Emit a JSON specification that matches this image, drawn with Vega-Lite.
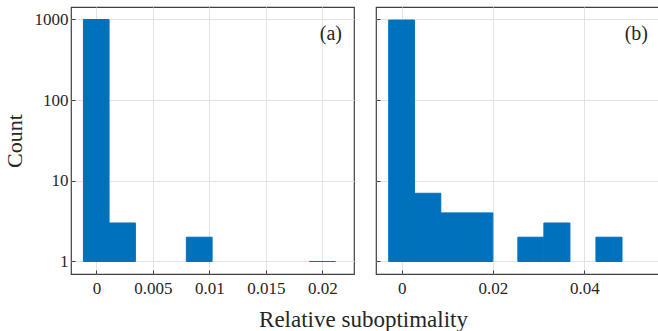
{
  "$schema": "https://vega.github.io/schema/vega-lite/v6.json",
  "padding": {"left": 2, "top": 6, "right": 0, "bottom": 0},
  "autosize": {"type": "pad"},
  "background": "white",
  "data": {"values": [
    {"panel": "a", "lo": -0.00115, "hi": 0.00112, "count": 994},
    {"panel": "a", "lo": 0.00112, "hi": 0.00345, "count": 3},
    {"panel": "a", "lo": 0.00796, "hi": 0.01024, "count": 2},
    {"panel": "a", "lo": 0.01885, "hi": 0.02115, "count": 1},
    {"panel": "b", "lo": -0.00285, "hi": 0.00279, "count": 978},
    {"panel": "b", "lo": 0.00279, "hi": 0.00856, "count": 7},
    {"panel": "b", "lo": 0.00856, "hi": 0.01426, "count": 4},
    {"panel": "b", "lo": 0.01426, "hi": 0.01997, "count": 4},
    {"panel": "b", "lo": 0.02545, "hi": 0.03115, "count": 2},
    {"panel": "b", "lo": 0.03115, "hi": 0.03686, "count": 3},
    {"panel": "b", "lo": 0.04256, "hi": 0.04827, "count": 2}
  ]},
  "spacing": 19,
  "config": {
    "font": "Liberation Serif",
    "view": {"stroke": "#404040", "strokeWidth": 1.2},
    "axis": {
      "gridColor": "#e3e3e3", "gridWidth": 1, "domain": false,
      "tickColor": "#404040", "tickSize": -4,
      "labelFont": "Liberation Serif", "labelFontSize": 17, "labelColor": "#262626",
      "titleFont": "Liberation Serif", "titleFontSize": 22, "titleFontWeight": "normal", "titleColor": "#262626"
    }
  },
  "title": {"text": "Relative suboptimality", "orient": "bottom", "anchor": "middle", "font": "Liberation Serif", "fontSize": 23, "fontWeight": "normal", "color": "#262626", "offset": 12, "dx": 32},
  "hconcat": [
    {
      "width": 283, "height": 267,
      "transform": [{"filter": "datum.panel == 'a'"}],
      "title": {"text": "(a)", "anchor": "end", "offset": -37, "dx": -12, "font": "Liberation Serif", "fontSize": 20, "fontWeight": "normal", "color": "#262626"},
      "mark": {"type": "bar", "color": "#0072bd", "stroke": "#0072bd", "strokeWidth": 1},
      "encoding": {
        "x": {"field": "lo", "type": "quantitative", "scale": {"domain": [-0.00225, 0.0228], "nice": false, "zero": false}, "axis": {"values": [0, 0.005, 0.01, 0.015, 0.02], "format": "~g", "title": null, "labelPadding": 10}},
        "x2": {"field": "hi"},
        "y": {"field": "count", "type": "quantitative", "scale": {"type": "log", "domain": [0.7, 1420], "nice": false}, "axis": {"values": [1, 10, 100, 1000], "format": "d", "title": "Count", "labelPadding": 7, "titlePadding": 8}},
        "y2": {"datum": 1}
      }
    },
    {
      "width": 284, "height": 267,
      "transform": [{"filter": "datum.panel == 'b'"}],
      "title": {"text": "(b)", "anchor": "end", "offset": -37, "dx": -12, "font": "Liberation Serif", "fontSize": 20, "fontWeight": "normal", "color": "#262626"},
      "mark": {"type": "bar", "color": "#0072bd", "stroke": "#0072bd", "strokeWidth": 1},
      "encoding": {
        "x": {"field": "lo", "type": "quantitative", "scale": {"domain": [-0.00564, 0.0566], "nice": false, "zero": false}, "axis": {"values": [0, 0.02, 0.04], "format": "~g", "title": null, "labelPadding": 10}},
        "x2": {"field": "hi"},
        "y": {"field": "count", "type": "quantitative", "scale": {"type": "log", "domain": [0.7, 1420], "nice": false}, "axis": {"values": [1, 10, 100, 1000], "labels": false, "title": null}},
        "y2": {"datum": 1}
      }
    }
  ]
}
